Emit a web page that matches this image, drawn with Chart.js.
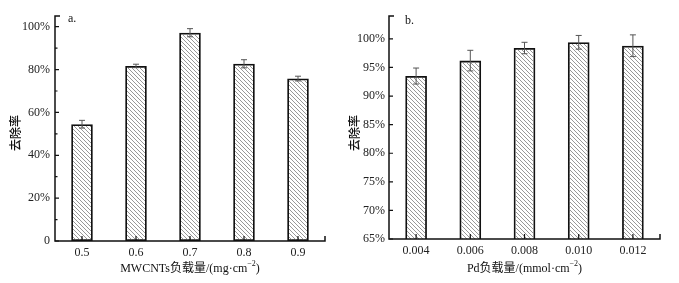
<!DOCTYPE html>
<html>
<head>
<meta charset="utf-8">
<script src="https://cdn.jsdelivr.net/npm/chart.js@4"></script>
<style>
  body { margin: 0; background: #fff; }
  .panel { position: absolute; top: 0; height: 283px; }
</style>
</head>
<body>
<div class="panel" style="left:0;width:340px"><canvas id="chartA"></canvas></div>
<div class="panel" style="left:340px;width:339px"><canvas id="chartB"></canvas></div>
<script>
// panel a: MWCNTs loading
const loadingsA = ['0.5', '0.6', '0.7', '0.8', '0.9'];
const removalA = [54.5, 81.7, 97.2, 82.7, 75.8];
const errorA = [1.8, 0.8, 1.9, 1.9, 1.1];

// panel b: Pd loading
const loadingsB = ['0.004', '0.006', '0.008', '0.010', '0.012'];
const removalB = [93.5, 96.2, 98.4, 99.4, 98.8];
const errorB = [1.4, 1.8, 1.0, 1.2, 1.9];

const serif = "'Liberation Serif', 'Times New Roman', serif";

// diagonal hatch fill
function makeHatch() {
  const c = document.createElement('canvas');
  c.width = 4; c.height = 4;
  const g = c.getContext('2d');
  g.strokeStyle = '#8c8c8c';
  g.lineWidth = 0.9;
  g.beginPath();
  g.moveTo(-1, -1); g.lineTo(5, 5);
  g.moveTo(-1, 3); g.lineTo(1, 5);
  g.moveTo(3, -1); g.lineTo(5, 1);
  g.stroke();
  return g.createPattern(c, 'repeat');
}
const hatch = makeHatch();

// axis lines, inward ticks, titles, error bars
const decorPlugin = {
  id: 'decor',
  afterDatasetsDraw(chart, args, opts) {
    const ctx = chart.ctx;
    const {left, right, top, bottom} = chart.chartArea;
    const xs = chart.scales.x, ys = chart.scales.y;
    ctx.save();

    // error bars
    ctx.strokeStyle = '#555';
    ctx.lineWidth = 1;
    opts.values.forEach((v, i) => {
      const x = xs.getPixelForValue(i);
      const y1 = ys.getPixelForValue(v + opts.errors[i]);
      const y2 = ys.getPixelForValue(v - opts.errors[i]);
      ctx.beginPath();
      ctx.moveTo(x, y1); ctx.lineTo(x, y2);
      ctx.moveTo(x - 3, y1); ctx.lineTo(x + 3, y1);
      ctx.moveTo(x - 3, y2); ctx.lineTo(x + 3, y2);
      ctx.stroke();
    });

    // axes
    ctx.strokeStyle = '#111';
    ctx.lineWidth = 1.5;
    ctx.beginPath();
    ctx.moveTo(left + 5, top); ctx.lineTo(left, top);
    ctx.lineTo(left, bottom); ctx.lineTo(right, bottom);
    ctx.lineTo(right, bottom - 5);
    ctx.stroke();

    ctx.lineWidth = 1.2;
    ctx.beginPath();
    ys.ticks.forEach(t => {
      const y = ys.getPixelForValue(t.value);
      ctx.moveTo(left, y); ctx.lineTo(left + 4, y);
    });
    (opts.minor || []).forEach(m => {
      const y = ys.getPixelForValue(m);
      ctx.moveTo(left, y); ctx.lineTo(left + 2.5, y);
    });
    xs.ticks.forEach((t, i) => {
      const x = xs.getPixelForValue(i);
      ctx.moveTo(x, bottom); ctx.lineTo(x, bottom - 5);
    });
    ctx.stroke();

    // panel letter
    ctx.fillStyle = '#111';
    ctx.font = '12px ' + serif;
    ctx.textAlign = 'left';
    ctx.textBaseline = 'middle';
    ctx.fillText(opts.letter, left + opts.letterDx, opts.letterY);

    // x title with superscript
    const cx = (left + right) / 2, ty = 269;
    const main = opts.xTitle, sup = '\u22122', tail = ')';
    ctx.font = "12px " + serif + ", 'Noto Sans CJK SC'";
    const w1 = ctx.measureText(main).width, w3 = ctx.measureText(tail).width;
    ctx.font = '8px ' + serif;
    const w2 = ctx.measureText(sup).width;
    let x0 = cx - (w1 + w2 + w3) / 2;
    ctx.font = "12px " + serif + ", 'Noto Sans CJK SC'";
    ctx.fillText(main, x0, ty);
    ctx.font = '8px ' + serif;
    ctx.fillText(sup, x0 + w1, ty - 5);
    ctx.font = "12px " + serif;
    ctx.fillText(tail, x0 + w1 + w2, ty);

    // y title
    ctx.save();
    ctx.translate(opts.yTitleX, 133);
    ctx.rotate(-Math.PI / 2);
    ctx.textAlign = 'center';
    ctx.font = "500 12px 'Noto Sans CJK SC'";
    ctx.fillText('去除率', 0, 0);
    ctx.restore();

    ctx.restore();
  }
};

function buildChart(id, labels, values, errors, cfg) {
  return new Chart(document.getElementById(id), {
    type: 'bar',
    data: {
      labels: labels,
      datasets: [{
        data: values,
        backgroundColor: hatch,
        borderColor: '#111',
        borderWidth: 1.8,
        borderSkipped: false,
        categoryPercentage: 1,
        barPercentage: 0.4,
      }],
    },
    options: {
      responsive: true,
      maintainAspectRatio: false,
      animation: false,
      layout: { padding: { left: 0, right: cfg.padRight, top: 16, bottom: 0 } },
      plugins: {
        legend: { display: false },
        tooltip: { enabled: false },
        decor: {
          values: values, errors: errors, minor: cfg.minor,
          letter: cfg.letter, letterDx: cfg.letterDx, letterY: cfg.letterY,
          xTitle: cfg.xTitle, yTitleX: cfg.yTitleX,
        },
      },
      scales: {
        x: {
          grid: { display: false, drawTicks: false },
          border: { display: false },
          ticks: { color: '#222', font: { family: serif, size: 12 }, padding: 5 },
          afterFit: s => { s.height = cfg.xHeight; },
        },
        y: {
          min: cfg.min, max: cfg.max,
          grid: { display: false, drawTicks: false },
          border: { display: false },
          ticks: {
            stepSize: cfg.step, includeBounds: false,
            color: '#222', font: { family: serif, size: 12 }, padding: cfg.tickPad,
            callback: v => (v === 0 ? '0' : v + '%'),
          },
          afterFit: s => { s.width = cfg.yWidth; },
        },
      },
    },
    plugins: [decorPlugin],
  });
}

buildChart('chartA', loadingsA, removalA, errorA, {
  min: 0, max: 105, step: 20, minor: [10, 30, 50, 70, 90],
  padRight: 15, yWidth: 55, xHeight: 42, tickPad: 5,
  letter: 'a.', letterDx: 13, letterY: 19, yTitleX: 15,
  xTitle: 'MWCNTs负载量/(mg·cm',
});

buildChart('chartB', loadingsB, removalB, errorB, {
  min: 65, max: 104, step: 5, minor: [],
  padRight: 19, yWidth: 49, xHeight: 44, tickPad: 4,
  letter: 'b.', letterDx: 16, letterY: 21, yTitleX: 14,
  xTitle: 'Pd负载量/(mmol·cm',
});
</script>
</body>
</html>
